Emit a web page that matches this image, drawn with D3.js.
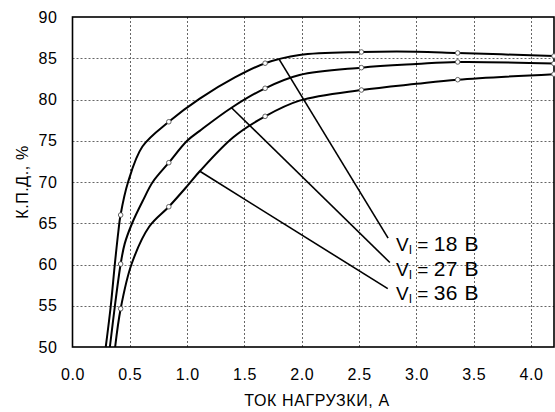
<!DOCTYPE html>
<html>
<head>
<meta charset="utf-8">
<script src="https://cdn.jsdelivr.net/npm/d3@7"></script>
<style>
  html, body { margin: 0; padding: 0; background: #fff; }
  svg text { font-family: Arial, "Liberation Sans", sans-serif; fill: #000; }
</style>
</head>
<body>
<svg id="chart" width="555" height="412"></svg>
<script>
// Load current, A
const xTicks = [0.0, 0.5, 1.0, 1.5, 2.0, 2.5, 3.0, 3.5, 4.0];
const yTicks = [50, 55, 60, 65, 70, 75, 80, 85, 90];

// Efficiency curves (current A, efficiency %) for each input voltage
const curve18 = [
  [0.29, 50], [0.334, 55], [0.369, 60], [0.40, 64], [0.419, 66.0], [0.485, 70],
  [0.61, 74.3], [0.84, 77.3], [1.11, 80.1], [1.42, 82.7], [1.68, 84.4], [1.98, 85.4],
  [2.52, 85.76], [3.0, 85.8], [3.36, 85.64], [4.2, 85.27]
];
const curve27 = [
  [0.326, 50], [0.37, 55], [0.42, 60.06], [0.455, 62.5], [0.52, 65], [0.616, 67.8],
  [0.70, 70], [0.84, 72.34], [1.0, 75], [1.11, 76.2], [1.387, 79.0], [1.68, 81.36],
  [1.98, 82.97], [2.52, 83.86], [3.0, 84.3], [3.36, 84.55], [4.2, 84.35]
];
const curve36 = [
  [0.372, 50], [0.42, 54.64], [0.514, 60], [0.67, 64.6], [0.84, 67.0], [1.0, 69.5],
  [1.11, 71.3], [1.40, 75.4], [1.68, 77.96], [1.98, 79.86], [2.52, 81.15],
  [3.0, 81.9], [3.36, 82.4], [4.2, 83.07]
];

// Measured points (markers)
const markerCurrents = [0.42, 0.84, 1.68, 2.52, 3.36, 4.2];
const markers18 = [66.0, 77.3, 84.4, 85.76, 85.64, 85.27];
const markers27 = [60.06, 72.34, 81.36, 83.86, 84.55, 84.35];
const markers36 = [54.64, 67.0, 77.96, 81.15, 82.4, 83.07];

// Callout labels: [from x, from y] on the curve, [to x, to y] near the text
const seriesLabels = ["18 В", "27 В", "36 В"];
const leaderFrom = [[1.803, 84.87], [1.387, 79.0], [1.111, 71.3]];
const leaderTo = [[2.753, 63.2], [2.768, 60.24], [2.75, 57.07]];

const svg = d3.select("#chart");
const plotLeft = 72.5, plotRight = 554, plotTop = 17, plotBottom = 347;

const x = d3.scaleLinear().domain([0, 4.2]).range([plotLeft, plotRight]);
const y = d3.scaleLinear().domain([50, 90]).range([plotBottom, plotTop]);

// Grid
const grid = svg.append("g");
grid.selectAll("line.h").data(yTicks.filter(v => v > 50 && v < 90)).enter()
  .append("line")
  .attr("x1", plotLeft).attr("x2", plotRight)
  .attr("y1", d => Math.round(y(d)) + 0.5).attr("y2", d => Math.round(y(d)) + 0.5)
  .attr("stroke", "#666").attr("stroke-width", 1).attr("stroke-dasharray", "2,2");
grid.selectAll("line.v").data(xTicks.filter(v => v > 0)).enter()
  .append("line")
  .attr("x1", d => Math.round(x(d)) + 0.5).attr("x2", d => Math.round(x(d)) + 0.5)
  .attr("y1", plotTop).attr("y2", plotBottom)
  .attr("stroke", "#666").attr("stroke-width", 1).attr("stroke-dasharray", "2,2");

// Axes
const xAxis = d3.axisBottom(x).tickValues(xTicks).tickFormat(d3.format(".1f")).tickSize(0).tickPadding(22);
const yAxis = d3.axisLeft(y).tickValues(yTicks).tickFormat(d3.format("d")).tickSize(0).tickPadding(15);

svg.append("g").attr("transform", `translate(0,${plotBottom})`).call(xAxis)
  .call(g => g.select(".domain").remove())
  .selectAll("text").attr("font-size", 16).attr("fill", "#000")
  .attr("letter-spacing", 0.6)
  .attr("font-family", "Arial, 'Liberation Sans', sans-serif");

svg.append("g").attr("transform", `translate(${plotLeft},0)`).call(yAxis)
  .call(g => g.select(".domain").remove())
  .selectAll("text").attr("font-size", 16).attr("fill", "#000")
  .attr("letter-spacing", 0.6)
  .attr("font-family", "Arial, 'Liberation Sans', sans-serif");

// Frame
svg.append("rect")
  .attr("x", plotLeft).attr("y", plotTop)
  .attr("width", plotRight - plotLeft).attr("height", plotBottom - plotTop)
  .attr("fill", "none").attr("stroke", "#000").attr("stroke-width", 1.6);

// Axis titles
svg.append("text")
  .attr("x", 317).attr("y", 406)
  .attr("text-anchor", "middle").attr("font-size", 16)
  .attr("letter-spacing", 0.6)
  .text("ТОК НАГРУЗКИ, А");

svg.append("text")
  .attr("transform", `translate(28,${(plotTop + plotBottom) / 2}) rotate(-90)`)
  .attr("text-anchor", "middle").attr("font-size", 16)
  .attr("letter-spacing", 0.6)
  .text("К.П.Д., %");

// Curves
const line = d3.line()
  .x(d => x(d[0])).y(d => y(d[1]))
  .curve(d3.curveCatmullRom.alpha(0.5));

const plot = svg.append("g");
[curve18, curve27, curve36].forEach(c => {
  plot.append("path").datum(c)
    .attr("d", line)
    .attr("fill", "none").attr("stroke", "#000").attr("stroke-width", 2);
});

// Leader lines
leaderFrom.forEach((f, i) => {
  plot.append("line")
    .attr("x1", x(f[0])).attr("y1", y(f[1]))
    .attr("x2", x(leaderTo[i][0])).attr("y2", y(leaderTo[i][1]))
    .attr("stroke", "#000").attr("stroke-width", 1.6);
});

// Markers
[markers18, markers27, markers36].forEach(vals => {
  plot.selectAll(null).data(vals.map((v, i) => [markerCurrents[i], v])).enter()
    .append("circle")
    .attr("cx", d => x(d[0])).attr("cy", d => y(d[1]))
    .attr("r", 2.3)
    .attr("fill", "#fff").attr("stroke", "#555").attr("stroke-width", 0.9);
});

// Series labels
const baselines = [251, 276, 300];
seriesLabels.forEach((s, i) => {
  const t = svg.append("text")
    .attr("x", 396).attr("y", baselines[i])
    .attr("font-size", 19);
  t.append("tspan").text("V");
  t.append("tspan").attr("font-size", 12).attr("dy", 3).text("I");
  t.append("tspan").attr("dy", -3).text(" = ");
  t.append("tspan").attr("font-size", 21).attr("letter-spacing", 0.5).text(s);
});
</script>
</body>
</html>
